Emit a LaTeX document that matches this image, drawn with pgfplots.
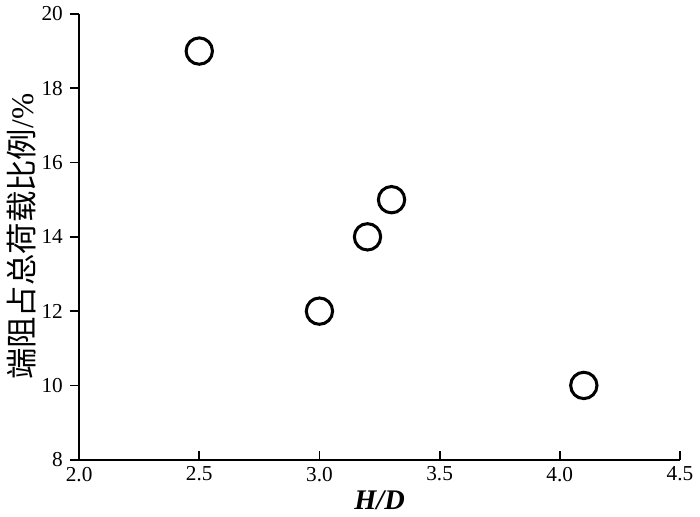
\documentclass[border=0pt]{standalone}
\usepackage{fontspec}
\setmainfont{Liberation Serif}
\newfontfamily\cjk{Noto Sans CJK SC}
\usepackage{pgfplots}
\pgfplotsset{compat=1.18}
\begin{document}
\begin{tikzpicture}
\begin{axis}[
  width=296.5pt, height=220pt, scale only axis,
  xmin=2.0, xmax=4.5, ymin=8, ymax=20,
  axis x line=bottom, axis y line=left,
  axis line style={-, line width=1pt},
  xtick={2.0,2.5,3.0,3.5,4.0,4.5},
  ytick={8,10,12,14,16,18,20},
  xticklabels={2.0,2.5,3.0,3.5,4.0,4.5},
  xtick align=inside, ytick align=outside,
  major tick length=4.5pt,
  tick style={line width=0.9pt, black},
  /pgf/number format/assume math mode=true,
  tick label style={font=\fontsize{10.5}{12}\selectfont},
  xlabel={\textbf{\textit{H/D}}},
  ylabel={{\cjk 端阻占总荷载比例}/\%},
  xlabel style={font=\fontsize{14}{16}\selectfont, yshift=2pt},
  ylabel style={font=\fontsize{15.5}{17}\selectfont, yshift=-4pt},
  clip=false,
]
\addplot[only marks, mark=o, mark size=6.5pt, line width=1.5pt, black]
coordinates {(2.5,19) (3.0,12) (3.2,14) (3.3,15) (4.1,10)};
\end{axis}
\end{tikzpicture}
\end{document}
